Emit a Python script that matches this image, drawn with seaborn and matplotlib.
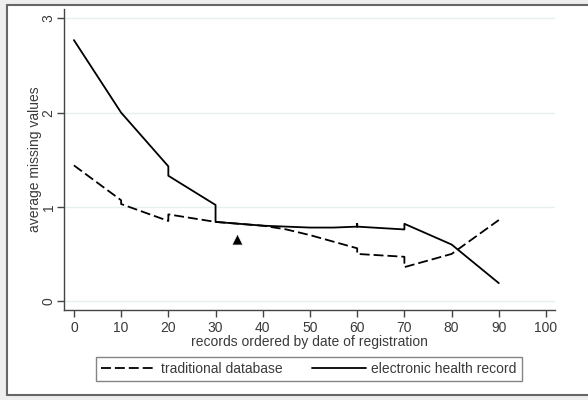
import pandas as pd
import matplotlib
matplotlib.use("Agg")
import matplotlib.pyplot as plt
import seaborn as sns
from matplotlib.patches import Rectangle

# data (repeated x = vertical step)
trad_x = [0, 10, 10, 20, 20, 30, 40, 45, 50, 60, 60, 70, 70, 80, 90]
trad_y = [1.44, 1.07, 1.03, 0.85, 0.92, 0.84, 0.80, 0.76, 0.70, 0.56, 0.50, 0.47, 0.36, 0.50, 0.86]
ehr_x = [0, 10, 20, 20, 30, 30, 40, 50, 55, 60, 60, 60, 70, 70, 80, 90]
ehr_y = [2.77, 2.00, 1.43, 1.33, 1.02, 0.84, 0.80, 0.78, 0.78, 0.79, 0.82, 0.79, 0.76, 0.82, 0.60, 0.19]
marker_x = [34.5]
marker_y = [0.66]
x_ticks = list(range(0, 101, 10))
y_ticks = [0, 1, 2, 3]

trad = pd.DataFrame({"x": trad_x, "y": trad_y})
ehr = pd.DataFrame({"x": ehr_x, "y": ehr_y})
tri = pd.DataFrame({"x": marker_x, "y": marker_y})

sns.set_style("white")
plt.rcParams["font.family"] = ["Liberation Sans", "DejaVu Sans"]
txt = "#3a3a3a"

fig = plt.figure(figsize=(5.88, 4), dpi=100)
fig.patch.set_facecolor("#eeeeee")
# outer frame
fig.patches.append(Rectangle((7 / 588, 5 / 400), 1.2, 390 / 400, transform=fig.transFigure,
                             facecolor="white", edgecolor="#666666", linewidth=1.5, zorder=-1))

ax = fig.add_axes([64 / 588, 90 / 400, (555 - 64) / 588, (310 - 9) / 400])
ax.set_facecolor("white")

sns.lineplot(data=trad, x="x", y="y", estimator=None, sort=False, color="black",
             linewidth=1.3, dashes=False, ax=ax, label="traditional database")
ax.lines[-1].set_dashes([5.5, 2.2])
sns.lineplot(data=ehr, x="x", y="y", estimator=None, sort=False, color="black",
             linewidth=1.3, ax=ax, label="electronic health record")
sns.scatterplot(data=tri, x="x", y="y", marker="^", s=65, color="black", ax=ax, zorder=5)

ax.set_xlim(-2.1, 101.9)
ax.set_ylim(-0.095, 3.1)
ax.set_xticks(x_ticks)
ax.set_yticks(y_ticks)
for y in y_ticks:
    ax.axhline(y, color="#e6f0ef", linewidth=1, zorder=0)

for s in ["top", "right"]:
    ax.spines[s].set_visible(False)
for s in ["left", "bottom"]:
    ax.spines[s].set_color("#444444")
    ax.spines[s].set_linewidth(1.0)

ax.tick_params(axis="both", direction="out", length=5, width=1, color="#444444",
               labelcolor=txt, labelsize=10, bottom=True, left=True)
ax.tick_params(axis="x", pad=3)
ax.tick_params(axis="y", pad=1)
for lab in ax.get_yticklabels():
    lab.set_rotation(90)
    lab.set_va("center")

ax.set_xlabel("records ordered by date of registration", fontsize=10, color=txt, labelpad=0)
ax.set_ylabel("average missing values", fontsize=10, color=txt, labelpad=0)

h, l = ax.get_legend_handles_labels()
ax.legend_.remove()
leg = fig.legend(h[:2], l[:2], ncol=2, loc="center", bbox_to_anchor=(309 / 588, 1 - 369 / 400),
                 frameon=True, fancybox=False, fontsize=10, handlelength=3.9,
                 columnspacing=2.1, borderpad=0.35, handletextpad=0.4, borderaxespad=0)
leg.get_frame().set_edgecolor("#666666")
leg.get_frame().set_linewidth(1.0)
for t in leg.get_texts():
    t.set_color(txt)

fig.savefig("out.png", dpi=100, facecolor=fig.get_facecolor())
